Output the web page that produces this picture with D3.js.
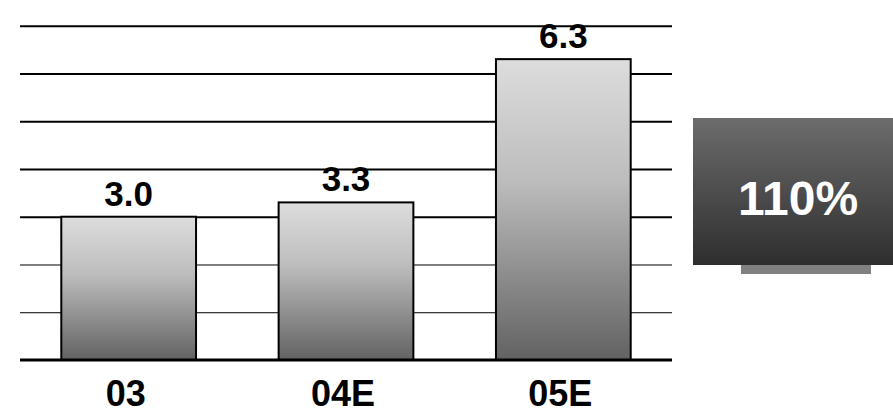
<!DOCTYPE html>
<html>
<head>
<meta charset="utf-8">
<script src="https://cdn.jsdelivr.net/npm/d3@7"></script>
<style>
  html, body { margin: 0; padding: 0; background: #ffffff; }
  svg { display: block; }
  text { font-family: "Liberation Sans", Arial, Helvetica, sans-serif; font-weight: bold; }
</style>
</head>
<body>
<svg id="chart" width="893" height="413"></svg>
<script>
// Data
const categories = ["03", "04E", "05E"];
const values = [3.0, 3.3, 6.3];
const valueLabels = ["3.0", "3.3", "6.3"];
const gridTicks = [1, 2, 3, 4, 5, 6, 7];
const growthLabel = "110%";

const svg = d3.select("#chart");

const x = d3.scaleBand()
  .domain(categories)
  .range([20, 672])
  .paddingInner(0.38)
  .paddingOuter(0.19);

const y = d3.scaleLinear()
  .domain([0, 7])
  .range([360, 25.7]);

const defs = svg.append("defs");
const barGrad = defs.append("linearGradient")
  .attr("id", "barGrad").attr("x1", 0).attr("y1", 0).attr("x2", 0).attr("y2", 1);
barGrad.append("stop").attr("offset", "0%").attr("stop-color", "#dddddd");
barGrad.append("stop").attr("offset", "40%").attr("stop-color", "#bdbdbd");
barGrad.append("stop").attr("offset", "100%").attr("stop-color", "#626262");

const boxGrad = defs.append("linearGradient")
  .attr("id", "boxGrad").attr("x1", 0).attr("y1", 0).attr("x2", 0).attr("y2", 1);
boxGrad.append("stop").attr("offset", "0%").attr("stop-color", "#6c6c6c");
boxGrad.append("stop").attr("offset", "100%").attr("stop-color", "#2e2e2e");

// Horizontal grid lines
const gridAxis = d3.axisLeft(y).tickValues(gridTicks).tickSize(-(672 - 20)).tickFormat("");
const gridG = svg.append("g")
  .attr("transform", "translate(20,0)")
  .call(gridAxis);
gridG.select(".domain").remove();
gridG.selectAll(".tick line")
  .attr("stroke", "#000")
  .attr("stroke-width", d => d >= 3 ? 2 : 1);

// Bars
svg.append("g").selectAll("rect")
  .data(values)
  .join("rect")
  .attr("x", (d, i) => x(categories[i]))
  .attr("y", d => y(d))
  .attr("width", x.bandwidth())
  .attr("height", d => y(0) - y(d))
  .attr("fill", "url(#barGrad)")
  .attr("stroke", "#000")
  .attr("stroke-width", 2);

// Baseline
svg.append("line")
  .attr("x1", 20).attr("x2", 672)
  .attr("y1", y(0)).attr("y2", y(0))
  .attr("stroke", "#000").attr("stroke-width", 3);

// Value labels
svg.append("g").selectAll("text")
  .data(values)
  .join("text")
  .attr("x", (d, i) => x(categories[i]) + x.bandwidth() / 2)
  .attr("y", d => y(d) - 11)
  .attr("text-anchor", "middle")
  .attr("font-size", 35)
  .attr("fill", "#000")
  .text((d, i) => valueLabels[i]);

// Category axis labels
const xAxis = d3.axisBottom(x).tickSize(0).tickPadding(0);
const xg = svg.append("g")
  .attr("transform", `translate(-3,${y(0)})`)
  .call(xAxis);
xg.select(".domain").remove();
xg.selectAll(".tick text")
  .attr("dy", null)
  .attr("y", 46)
  .attr("font-size", 36)
  .attr("font-family", "'Liberation Sans', Arial, sans-serif")
  .attr("font-weight", "bold")
  .attr("fill", "#000");

// Growth callout box
svg.append("rect")
  .attr("x", 741).attr("y", 264)
  .attr("width", 130).attr("height", 10)
  .attr("fill", "#808080");
svg.append("rect")
  .attr("x", 693).attr("y", 118)
  .attr("width", 200).attr("height", 147)
  .attr("fill", "url(#boxGrad)");
svg.append("text")
  .attr("x", 798)
  .attr("y", 215)
  .attr("text-anchor", "middle")
  .attr("font-size", 48)
  .attr("fill", "#ffffff")
  .text(growthLabel);
</script>
</body>
</html>
